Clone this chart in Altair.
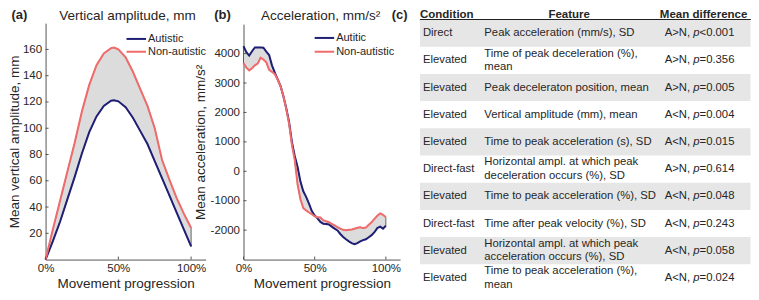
import altair as alt
import pandas as pd

# ---------------- data ----------------
# Panel (a): vertical amplitude (mm) vs movement progression (%)
x_a = [0, 5, 10, 15, 20, 25, 30, 35, 40, 45, 47, 50, 55, 60, 65, 70, 75, 80, 85, 90, 95, 100]
aut_a = [0, 14, 29, 46, 63, 81, 97, 109, 117, 121, 121.3, 120.5, 116, 108, 98, 88, 75, 62, 49, 36, 23, 10]
non_a = [0, 23, 45, 67, 89, 113, 133, 148, 157, 161, 161.5, 160, 154, 143, 130, 117, 100, 76, 61, 47, 35, 24]

# Panel (b): acceleration (mm/s^2) vs movement progression (%)
x_b = [0, 2, 4, 6, 8, 10, 12, 14, 16, 18, 20, 22, 24, 26, 28, 30, 32, 34, 36, 38, 40,
       42, 44, 46, 48, 50, 52, 54, 56, 58, 60, 62, 64, 66, 68, 70, 72, 74, 76, 78, 80,
       82, 84, 86, 88, 90, 92, 94, 96, 98, 100]
aut_b = [4250, 4050, 3930, 4080, 4210, 4210, 4210, 4200, 4070, 3950, 3600, 3350, 3120, 2900, 2560, 2150, 1680, 1000, 520, 150, -350,
         -680, -870, -1100, -1350, -1500, -1600, -1720, -1780, -1790, -1810, -1880, -1950, -2010, -2130, -2230, -2310, -2380, -2440, -2480, -2440,
         -2380, -2340, -2310, -2240, -2170, -2070, -1930, -1880, -1950, -1850]
non_b = [3680, 3520, 3430, 3500, 3600, 3660, 3860, 3800, 3700, 3450, 3380, 3300, 3120, 2900, 2560, 2120, 1620, 900, 380, -450, -950,
         -1250, -1330, -1400, -1460, -1530, -1560, -1570, -1660, -1700, -1730, -1790, -1840, -1900, -1950, -1990, -2000, -1990, -1980, -1950, -1920,
         -1900, -1930, -1910, -1820, -1730, -1620, -1510, -1430, -1480, -1560]

names_a = ["Autistic", "Non-autistic"]
names_b = ["Autitic", "Non-autistic"]

ticks_x = [0, 50, 100]
ticks_ya = [20, 40, 60, 80, 100, 120, 140, 160]
ticks_yb = [-2000, -1000, 0, 1000, 2000, 3000, 4000]

# Panel (c): table
conditions = ["Direct", "Elevated", "Elevated", "Elevated", "Elevated",
              "Direct-fast", "Elevated", "Direct-fast", "Elevated", "Elevated"]
features = ["Peak acceleration (mm/s), SD",
            "Time of peak deceleration (%),\nmean",
            "Peak deceleraton position, mean",
            "Vertical amplitude (mm), mean",
            "Time to peak acceleration (s), SD",
            "Horizontal ampl. at which peak\ndeceleration occurs (%), SD",
            "Time to peak acceleration (%), SD",
            "Time after peak velocity (%), SD",
            "Horizontal ampl. at which peak\nacceleration occurs (%), SD",
            "Time to peak acceleration (%),\nmean"]
directions = ["A>N,", "A>N,", "A>N,", "A<N,", "A<N,", "A>N,", "A<N,", "A<N,", "A<N,", "A<N,"]
pvalues = ["<0.001", "=0.356", "=0.005", "=0.004", "=0.015", "=0.614", "=0.048", "=0.243", "=0.058", "=0.024"]
headers = ["Condition", "Feature", "Mean difference"]

# ---------------- layout helpers ----------------
W, H = 743, 284


def X(x):
    return 1.5 + 0.975 * x


def Y(y):
    return 0.985 * y - 6.5


def TY(y):  # table rows
    return 11.5 + (y - 12.5) * 0.9663


TOP = 6.5  # centre line of header / titles / panel labels

FONT = "Liberation Sans"
TXT = "#262626"
AXC = "#555555"
BLUE = "#1f1f75"
RED = "#f06b6b"
FILL = "#dcdcdc"
ROWBG = "#e6e6e6"
FS_TICK = 11.5
FS_TITLE = 13.5
FS_LEG = 11
FS_TAB = 11.3
FS_HEAD = 11.5
FS_LAB = 13


def txt(s, x, y, size, align="left", weight="normal", style="normal", baseline="middle"):
    return alt.Chart(pd.DataFrame({"s": [s]})).mark_text(
        align=align, baseline=baseline, font=FONT, fontSize=size, fontWeight=weight,
        fontStyle=style, color=TXT
    ).encode(text="s:N", x=alt.value(x), y=alt.value(y))


def panel(xs_vals, aut, non, names, x0, x110, ybot, ytop, ydom, yticks, ytitle, leg_x, leg_y1, leg_y2, ytp):
    dfw = pd.DataFrame({"x": xs_vals, "aut": aut, "non": non})
    xs = alt.Scale(domain=[0, 110], range=[X(x0), X(x110)], nice=False, zero=False)
    ys = alt.Scale(domain=ydom, range=[Y(ybot), Y(ytop)], nice=False, zero=False)
    xaxis = alt.Axis(orient="bottom", offset=-(H - Y(ybot)), values=ticks_x,
                     labelExpr="datum.value + '%'", title="Movement progression",
                     grid=False, ticks=False, tickSize=0, domainColor=AXC, domainWidth=1,
                     labelColor=TXT, labelFont=FONT, labelFontSize=FS_TICK,
                     titleFont=FONT, titleFontSize=FS_TITLE, titleFontWeight="normal",
                     titleColor=TXT, labelPadding=3, titlePadding=2, labelFlush=False)
    yaxis = alt.Axis(orient="left", offset=-X(x0), values=yticks,
                     labelExpr="'' + datum.value", title=ytitle,
                     grid=False, ticks=False, tickSize=0, domainColor=AXC, domainWidth=1,
                     labelColor=TXT, labelFont=FONT, labelFontSize=FS_TICK,
                     titleFont=FONT, titleFontSize=FS_TITLE, titleFontWeight="normal",
                     titleColor=TXT, labelPadding=4, titlePadding=ytp, labelFlush=False)
    X_ = alt.X("x:Q", scale=xs, axis=xaxis)
    area = alt.Chart(dfw).mark_area(color=FILL, stroke="#444444", strokeWidth=0.8).encode(
        x=X_, y=alt.Y("aut:Q", scale=ys, axis=yaxis), y2="non:Q")
    lb = alt.Chart(dfw).mark_line(color=BLUE, strokeWidth=2).encode(
        x=X_, y=alt.Y("aut:Q", scale=ys, axis=yaxis))
    lr = alt.Chart(dfw).mark_line(color=RED, strokeWidth=2).encode(
        x=X_, y=alt.Y("non:Q", scale=ys, axis=yaxis))
    yt = alt.Chart(pd.DataFrame({"t": yticks})).mark_rule(color=AXC, strokeWidth=1).encode(
        y=alt.Y("t:Q", scale=ys, axis=yaxis), x=alt.value(X(x0)), x2=alt.value(X(x0) + 3))
    xt = alt.Chart(pd.DataFrame({"t": ticks_x})).mark_rule(color=AXC, strokeWidth=1).encode(
        x=alt.X("t:Q", scale=xs, axis=xaxis), y=alt.value(Y(ybot)), y2=alt.value(Y(ybot) - 3))
    leg = []
    for nm, col, yy in [(names[0], BLUE, leg_y1), (names[1], RED, leg_y2)]:
        leg.append(alt.Chart(pd.DataFrame({"s": [nm]})).mark_rule(color=col, strokeWidth=2).encode(
            x=alt.value(X(leg_x)), x2=alt.value(X(leg_x + 20)), y=alt.value(Y(yy))))
        leg.append(txt(nm, X(leg_x + 22), Y(yy), FS_LEG))
    return alt.layer(area, lb, lr, yt, xt, *leg)


pa = panel(x_a, aut_a, non_a, names_a, 37, 201.2, 262, 22, [0, 180], ticks_ya,
           "Mean vertical amplitude, mm", 120, 38, 51, 1)
pb = panel(x_b, aut_b, non_b, names_b, 240, 400.6, 262, 23, [-3000, 5000], ticks_yb,
           "Mean acceleration, mm/s\u00b2", 313, 37, 51, 3)

# ---------------- table ----------------
dft = pd.DataFrame({"row": list(range(1, 11)), "cond": conditions, "feat": features,
                    "dirn": directions, "pv": pvalues})
dft["two"] = ["\n" in f for f in features]
rs = alt.Scale(type="band", domain=list(range(1, 11)), range=[TY(12.5), TY(294)],
               paddingInner=0, paddingOuter=0)
RY = alt.Y("row:O", scale=rs, axis=None)
bg = alt.Chart(dft).transform_filter("datum.row % 2 == 1").mark_rect(color=ROWBG).encode(
    y=RY, x=alt.value(X(421)), x2=alt.value(X(760)))

LH = 13.5


def col(field, x, flt=None, dy=0, style="normal"):
    kw = dict(align="left", baseline="middle", font=FONT, fontSize=FS_TAB, color=TXT,
              fontStyle=style, lineBreak="\n", lineHeight=LH, dy=dy)
    c = alt.Chart(dft)
    if flt:
        c = c.transform_filter(flt)
    return c.mark_text(**kw).encode(y=RY, x=alt.value(x), text=f"{field}:N")


dir_x = X(672)
p_x = dir_x + 2.529 * FS_TAB
pv_x = p_x + 0.556 * FS_TAB
c_cond = col("cond", X(424))
c_feat1 = col("feat", X(487), flt="!datum.two")
c_feat2 = col("feat", X(487), flt="datum.two", dy=-LH / 2)
c_dir = col("dirn", dir_x)
c_p = alt.Chart(dft).mark_text(align="left", baseline="middle", font=FONT, fontSize=FS_TAB,
                               color=TXT, fontStyle="italic", text="p").encode(y=RY, x=alt.value(p_x))
c_pv = col("pv", pv_x)

hline = alt.Chart(pd.DataFrame({"s": headers})).mark_rule(color="#222222", strokeWidth=1.2).encode(
    x=alt.value(X(421)), x2=alt.value(X(760)), y=alt.value(TY(12.5)))
h1 = txt(headers[0], X(421), TOP, FS_HEAD, weight="bold")
h2 = txt(headers[1], X(574), TOP, FS_HEAD, align="center", weight="bold")
h3 = txt(headers[2], X(667), TOP, FS_HEAD, weight="bold")

table = alt.layer(bg, hline, c_cond, c_feat1, c_feat2, c_dir, c_p, c_pv, h1, h2, h3)

# ---------------- titles & panel labels ----------------
ta = txt("Vertical amplitude, mm", X(121), TOP + 1, FS_TITLE, align="center")
tb = txt("Acceleration, mm/s\u00b2", X(319), TOP + 1, FS_TITLE, align="center")
la = txt("(a)", X(2), TOP, FS_LAB, weight="bold")
lbl_b = txt("(b)", X(210), TOP, FS_LAB, weight="bold")
lc = txt("(c)", X(392), TOP, FS_LAB, weight="bold")

chart = alt.layer(pa, pb, table, ta, tb, la, lbl_b, lc).resolve_scale(
    x="independent", y="independent"
).properties(
    width=W, height=H, autosize=alt.AutoSizeParams(type="none"), padding=0,
    background="white"
).configure_view(strokeWidth=0)

chart.save("out.html", embed_options={"renderer": "svg", "actions": False})
